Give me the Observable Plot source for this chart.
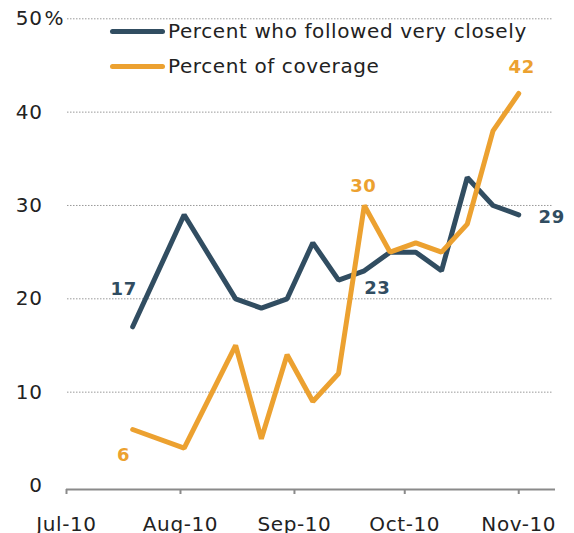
<!DOCTYPE html>
<html><head><meta charset="utf-8">
<script src="https://cdn.jsdelivr.net/npm/d3@7"></script>
<script src="https://cdn.jsdelivr.net/npm/@observablehq/plot@0.6"></script>
<style>
body{margin:0;background:#fff;}
#wrap{position:relative;width:574px;height:533px;font-family:"DejaVu Sans",sans-serif;}
#wrap svg text{letter-spacing:0.6px;}
#wrap svg text.lbl{letter-spacing:1.5px;}
.leg{position:absolute;left:110px;height:24px;display:flex;align-items:center;font-size:20px;letter-spacing:0.6px;color:#222;white-space:nowrap;}
.sw{width:55px;height:5px;border-radius:3px;margin-right:3px;}
</style></head><body>
<div id="wrap"></div>
<script>
const dates = ["2010-07-19","2010-08-02","2010-08-16","2010-08-23","2010-08-30","2010-09-06","2010-09-13","2010-09-20","2010-09-27","2010-10-04","2010-10-11","2010-10-18","2010-10-25","2010-11-01"];
const followed = [17, 29, 20, 19, 20, 26, 22, 23, 25, 25, 23, 33, 30, 29];
const coverage = [6, 4, 15, 5, 14, 9, 12, 30, 25, 26, 25, 28, 38, 42];
const seriesNames = ["Percent who followed very closely", "Percent of coverage"];
const colors = ["#314d61", "#eca130"];
const yTicks = [0, 10, 20, 30, 40, 50];
const gridTicks = [10, 20, 30, 40, 50];
const xTicks = ["2010-07-01", "2010-08-01", "2010-09-01", "2010-10-01", "2010-11-01"];
const xDomain = ["2010-07-01", "2010-11-11"];

const rows = dates.map((d, i) => ({date: new Date(d), followed: followed[i], coverage: coverage[i]}));
const last = rows.length - 1;
const idxCov30 = coverage.indexOf(30);
const idxFol23 = 7;

const lblStyle = {fontWeight: "bold", fontSize: 18, className: "lbl"};

const chart = Plot.plot({
  width: 574, height: 533,
  marginLeft: 66, marginRight: 19, marginTop: 18, marginBottom: 44,
  style: {fontFamily: "DejaVu Sans", fontSize: "20px", color: "#222", background: "#fff", overflow: "visible"},
  x: {type: "utc", domain: xDomain.map(d => new Date(d))},
  y: {domain: [0, 50], range: [485, 18.3]},
  marks: [
    Plot.ruleY(gridTicks, {stroke: "#9a9a9a", strokeWidth: 1, strokeDasharray: "1.5,1.5", insetLeft: 1, insetRight: 2}),
    Plot.ruleY([0], {stroke: "#8a8a8a", strokeWidth: 2, dy: 4}),
    Plot.axisY(yTicks, {tickSize: 0, tickPadding: 24, tickFormat: d => String(d), fontSize: 20, fill: "#222"}),
    Plot.text([50], {y: d => d, text: () => "%", frameAnchor: "left", textAnchor: "start", dx: -22, fontSize: 20, fill: "#222"}),
    Plot.axisX(xTicks.map(d => new Date(d)), {tickSize: 5, tickPadding: 22, stroke: "#8a8a8a", strokeWidth: 2, tickFormat: d3.utcFormat("%b-%y"), fontSize: 20, fill: "#222"}),
    Plot.line(rows, {x: "date", y: "followed", stroke: colors[0], strokeWidth: 5, strokeLinecap: "round", strokeLinejoin: "miter"}),
    Plot.line(rows, {x: "date", y: "coverage", stroke: colors[1], strokeWidth: 5, strokeLinecap: "round", strokeLinejoin: "miter"}),
    Plot.text([rows[0]], {x: "date", y: "followed", text: d => String(d.followed), fill: colors[0], dx: -9, dy: -38, ...lblStyle}),
    Plot.text([rows[idxFol23]], {x: "date", y: "followed", text: d => String(d.followed), fill: colors[0], dx: 13, dy: 17, ...lblStyle}),
    Plot.text([rows[last]], {x: "date", y: "followed", text: d => String(d.followed), fill: colors[0], dx: 33, dy: 2, ...lblStyle}),
    Plot.text([rows[0]], {x: "date", y: "coverage", text: d => String(d.coverage), fill: colors[1], dx: -9, dy: 26, ...lblStyle}),
    Plot.text([rows[idxCov30]], {x: "date", y: "coverage", text: d => String(d.coverage), fill: colors[1], dx: -1, dy: -19, ...lblStyle}),
    Plot.text([rows[last]], {x: "date", y: "coverage", text: d => String(d.coverage), fill: colors[1], dx: 3, dy: -26, ...lblStyle})
  ]
});

const wrap = document.getElementById("wrap");
wrap.appendChild(chart);
seriesNames.forEach((name, i) => {
  const div = document.createElement("div");
  div.className = "leg";
  div.style.top = (i === 0 ? 19 : 54) + "px";
  const sw = document.createElement("div");
  sw.className = "sw";
  sw.style.background = colors[i];
  const t = document.createElement("span");
  t.textContent = name;
  div.appendChild(sw);
  div.appendChild(t);
  wrap.appendChild(div);
});
</script>
</body></html>
